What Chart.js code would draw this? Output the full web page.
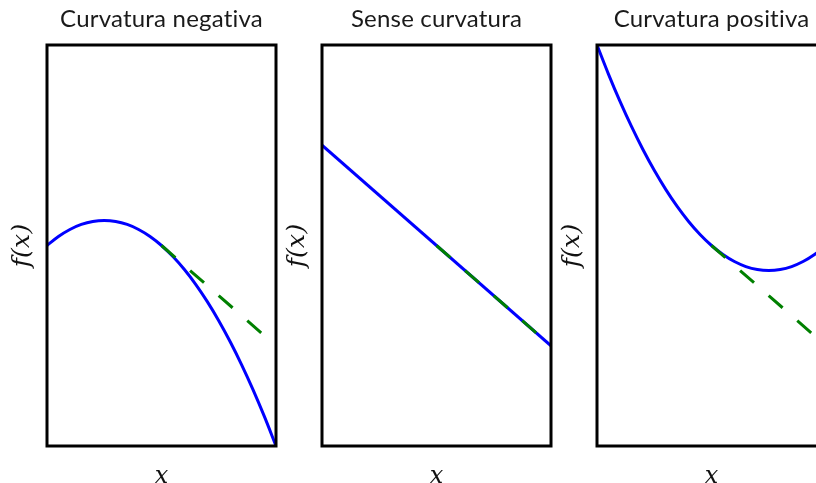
<!DOCTYPE html>
<html><head><meta charset="utf-8">
<script src="https://cdn.jsdelivr.net/npm/chart.js@4.4.1/dist/chart.umd.min.js"></script>
<style>
html,body{margin:0;padding:0;background:#fff;overflow:hidden;width:816px;height:483px;position:relative;}
.panel{position:absolute;top:0;height:483px;}
</style></head><body>
<div class="panel" id="p0"><canvas id="c0"></canvas></div>
<div class="panel" id="p1"><canvas id="c1"></canvas></div>
<div class="panel" id="p2"><canvas id="c2"></canvas></div>
<script>
// ---- data ----
const panelTitles = ['Curvatura negativa', 'Sense curvatura', 'Curvatura positiva'];
const xAxisLabel = 'x';
const yAxisLabel = 'f(x)';
const xValues = [0,0.05,0.1,0.15,0.2,0.25,0.3,0.35,0.4,0.45,0.5,0.55,0.6,0.65,0.7,0.75,0.8,0.85,0.9,0.95,1];
const curvaturaNegativa = [0.5,0.5225,0.54,0.5525,0.56,0.5625,0.56,0.5525,0.54,0.5225,0.5,0.4725,0.44,0.4025,0.36,0.3125,0.26,0.2025,0.14,0.0725,0];
const senseCurvaturaX = [0, 1];
const senseCurvatura = [0.75, 0.25];
const curvaturaPositiva = [1,0.9275,0.86,0.7975,0.74,0.6875,0.64,0.5975,0.56,0.5275,0.5,0.4775,0.46,0.4475,0.44,0.4375,0.44,0.4475,0.46,0.4775,0.5];
const tangentX = [0.5, 1];
const tangentY = [0.5, 0.25];

// ---- layout (positions of each panel) ----
const panelBoxes = [
  {left: 0,   width: 286, padRight: 10},
  {left: 275, width: 286, padRight: 10},
  {left: 550, width: 286, padRight: 10}
];
const curves = [
  {x: xValues, y: curvaturaNegativa},
  {x: senseCurvaturaX, y: senseCurvatura},
  {x: xValues, y: curvaturaPositiva}
];

const framePlugin = {
  id: 'frame',
  beforeDraw(chart) {
    // avoid the Lato "ti" ligature (non-zero spacing disables ligatures)
    chart.ctx.letterSpacing = '0.2px';
  },
  afterDatasetsDraw(chart) {
    const a = chart.chartArea, ctx = chart.ctx;
    ctx.save();
    ctx.strokeStyle = '#000';
    ctx.lineWidth = 3;
    ctx.strokeRect(a.left, a.top, a.right - a.left, a.bottom - a.top);
    ctx.restore();
  }
};

function pts(xs, ys) { return xs.map((x, i) => ({x: x, y: ys[i]})); }

panelBoxes.forEach((box, i) => {
  const div = document.getElementById('p' + i);
  div.style.left = box.left + 'px';
  div.style.width = box.width + 'px';
  new Chart(document.getElementById('c' + i), {
    type: 'line',
    data: {
      datasets: [
        {
          data: pts(tangentX, tangentY),
          borderColor: '#008000',
          borderWidth: 3,
          borderDash: [18.5, 19.5],
          pointRadius: 0,
          order: 0
        },
        {
          data: pts(curves[i].x, curves[i].y),
          borderColor: '#0000ff',
          borderWidth: 3,
          pointRadius: 0,
          cubicInterpolationMode: 'monotone',
          order: 1
        }
      ]
    },
    options: {
      responsive: true,
      maintainAspectRatio: false,
      animation: false,
      events: [],
      layout: {padding: {left: 0, right: box.padRight, top: 0, bottom: 0}},
      plugins: {
        legend: {display: false},
        tooltip: {enabled: false},
        title: {
          display: true,
          fullSize: false,
          text: panelTitles[i],
          color: '#1a1a1a',
          font: {family: 'Lato', size: 24, weight: 'normal', lineHeight: 1.2},
          padding: {top: 5, bottom: 11.2}
        }
      },
      scales: {
        x: {
          type: 'linear', min: 0, max: 1,
          ticks: {display: false},
          grid: {display: false},
          border: {display: false},
          title: {
            display: true, text: xAxisLabel, color: '#111',
            font: {family: 'DejaVu Serif', style: 'italic', size: 24, lineHeight: 0.55},
            padding: {top: 0, bottom: 0}
          },
          afterFit(scale) { scale.height = 37; }
        },
        y: {
          type: 'linear', min: 0, max: 1,
          ticks: {display: false},
          grid: {display: false},
          border: {display: false},
          title: {
            display: true, text: yAxisLabel, color: '#111',
            font: {family: 'DejaVu Serif', style: 'italic', size: 25, lineHeight: 1},
            padding: {top: 10, bottom: 0}
          },
          afterFit(scale) { scale.width = 47; }
        }
      }
    },
    plugins: [framePlugin]
  });
});
</script>
</body></html>
